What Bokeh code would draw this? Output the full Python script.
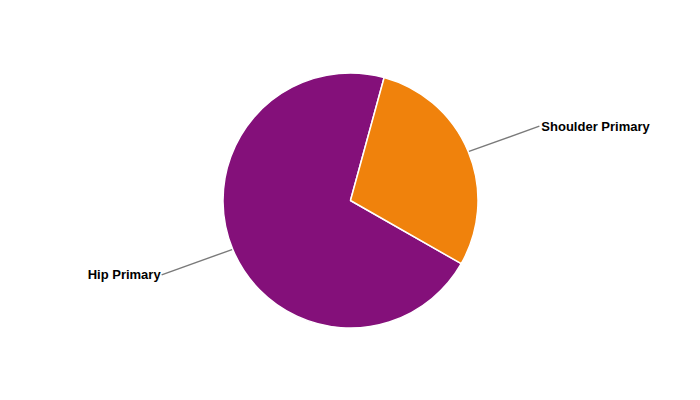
import math
from bokeh.plotting import figure
from bokeh.models import Range1d, ColumnDataSource
from bokeh.core.properties import value
from bokeh.embed import file_html
from bokeh.resources import INLINE

# ---- data ----
categories = ["Hip Primary", "Shoulder Primary"]
values = [71.0, 29.0]
colors = ["#84107A", "#F0820C"]

# ---- layout / style ----
W, H = 684, 384
CX, CY = 350, 200          # pie centre (page px, y measured from bottom of 400px page)
R = 127.5                  # pie radius
R_LABEL = 203              # connector end radius
START_DEG = 119.7          # first slice start, clockwise from 12 o'clock
LABEL_TWIST_DEG = 1.0      # connector end slightly rotated clockwise

total = sum(values)
starts, ends, mids = [], [], []
a = START_DEG
for v in values:
    span = v / total * 360.0
    starts.append(a)
    ends.append(a + span)
    mids.append(a + span / 2)
    a += span

# bokeh angles: anticlockwise from +x
w_start = [math.radians(90 - e) for e in ends]
w_end = [math.radians(90 - s) for s in starts]

src = ColumnDataSource(dict(
    x=[CX] * len(values), y=[CY] * len(values),
    start=w_start, end=w_end, color=colors, cat=categories))

p = figure(width=W, height=H, output_backend="svg", toolbar_location=None,
           x_range=Range1d(0, W), y_range=Range1d(400 - H, 400),
           x_axis_type=None, y_axis_type=None, min_border=0)
p.outline_line_color = None
p.grid.visible = False
p.background_fill_color = "white"
p.border_fill_color = "white"

# connectors and labels
xs, ys, tx, ty, ta = [], [], [], [], []
for m in mids:
    ang = math.radians(90 - m)
    ang2 = math.radians(90 - m - LABEL_TWIST_DEG)
    x0, y0 = CX + R * math.cos(ang), CY + R * math.sin(ang)
    x1, y1 = CX + R_LABEL * math.cos(ang2), CY + R_LABEL * math.sin(ang2)
    xs.append([x0, x1])
    ys.append([y0, y1])
    right = math.cos(ang) >= 0
    tx.append(x1 + (2 if right else -1))
    ty.append(y1)
    ta.append("left" if right else "right")

p.multi_line(xs=xs, ys=ys, line_color="#7a7a7a", line_width=1.4)

p.wedge(x="x", y="y", radius=R, start_angle="start", end_angle="end",
        fill_color="color", line_color="white", line_width=1.5, source=src)

lsrc = ColumnDataSource(dict(x=tx, y=ty, text=categories, align=ta))
p.text(x="x", y="y", text="text", text_align="align", text_baseline="middle",
       text_font=value("Liberation Sans"), text_font_style="bold",
       text_font_size="13px", text_color="#000000", source=lsrc)

open("out.html", "w").write(file_html(p, INLINE))
